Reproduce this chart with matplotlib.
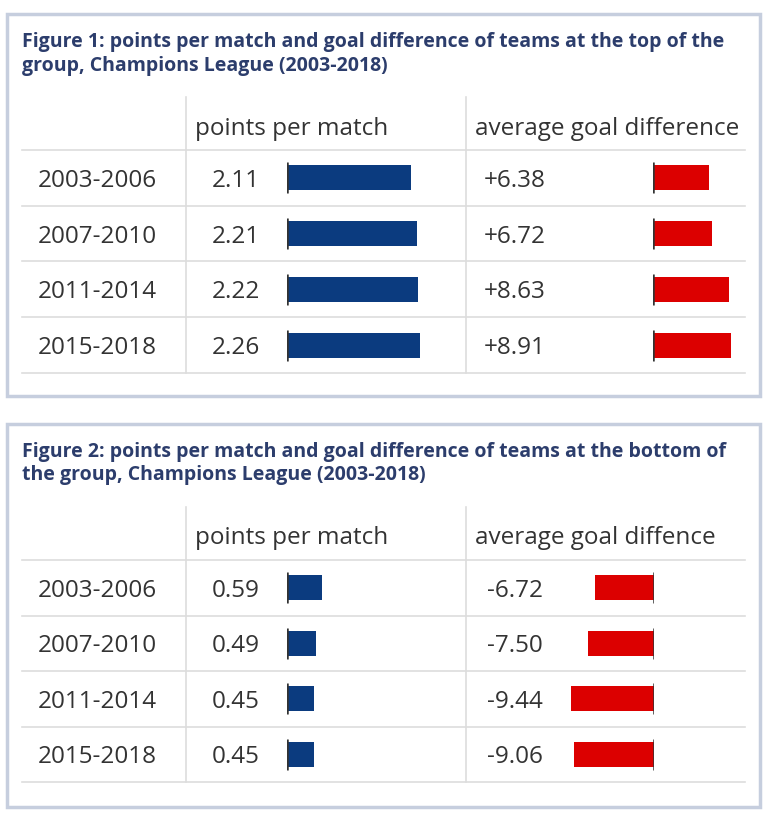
import matplotlib
matplotlib.use("Agg")
import matplotlib.pyplot as plt
from matplotlib.patches import Rectangle

# Data
periods = ["2003-2006", "2007-2010", "2011-2014", "2015-2018"]
top_ppm = [2.11, 2.21, 2.22, 2.26]
top_gd = [6.38, 6.72, 8.63, 8.91]
bottom_ppm = [0.59, 0.49, 0.45, 0.45]
bottom_gd = [-6.72, -7.50, -9.44, -9.06]

titles = [
    "Figure 1: points per match and goal difference of teams at the top of the\ngroup, Champions League (2003-2018)",
    "Figure 2: points per match and goal difference of teams at the bottom of\nthe group, Champions League (2003-2018)",
]
headers = [
    ("points per match", "average goal difference"),
    ("points per match", "average goal diffence"),
]

W, H = 767, 813
BLUE = "#0b3b7f"
RED = "#dc0000"
TITLE_C = "#2c3d6c"
TEXT_C = "#333333"
LINE_C = "#dddddd"
BORDER_C = "#c6cede"
FONT = "Open Sans"

fig = plt.figure(figsize=(W / 100, H / 100), dpi=100)
bg = fig.add_axes([0, 0, 1, 1])
bg.set_xlim(0, W)
bg.set_ylim(H, 0)
bg.axis("off")


def px_axes(x0, y0, x1, y1):
    return fig.add_axes([x0 / W, 1 - y1 / H, (x1 - x0) / W, (y1 - y0) / H])


PX_PPM = 59.0   # pixels per point
PX_GD = 8.8     # pixels per goal

panels = [
    dict(top=14, bottom=396, t1=43, vtop=97, head=126, rows0=150, rows1=373,
         ppm=top_ppm, gd=top_gd),
    dict(top=424, bottom=807, t1=452, vtop=507, head=535, rows0=560, rows1=782,
         ppm=bottom_ppm, gd=bottom_gd),
]

for i, p in enumerate(panels):
    bg.add_patch(Rectangle((7, p["top"]), 753, p["bottom"] - p["top"],
                           fill=False, edgecolor=BORDER_C, lw=2.5))
    bg.text(22, p["t1"] + 11, titles[i], ha="left", va="center", color=TITLE_C,
            fontsize=14, fontweight="bold", family=FONT, linespacing=1.2)

    # table grid
    n = len(periods)
    rh = (p["rows1"] - p["rows0"]) / n
    for k in range(n + 1):
        y = p["rows0"] + k * rh
        bg.plot([22, 745], [y, y], color=LINE_C, lw=1.2)
    for x in (186, 466):
        bg.plot([x, x], [p["vtop"], p["rows1"]], color=LINE_C, lw=1.2)

    bg.text(195, p["head"] + 3, headers[i][0], ha="left", va="center",
            color=TEXT_C, fontsize=17.5, family=FONT)
    bg.text(475, p["head"] + 3, headers[i][1], ha="left", va="center",
            color=TEXT_C, fontsize=17.5, family=FONT)

    for k, per in enumerate(periods):
        yc = p["rows0"] + (k + 0.5) * rh + 3
        bg.text(97, yc, per, ha="center", va="center", color=TEXT_C,
                fontsize=17.5, family=FONT)
        bg.text(236, yc, f"{p['ppm'][k]:.2f}", ha="center", va="center",
                color=TEXT_C, fontsize=17.5, family=FONT)
        bg.text(515, yc, f"{p['gd'][k]:+.2f}", ha="center", va="center",
                color=TEXT_C, fontsize=17.5, family=FONT)

    ypos = list(range(n))
    bh = 25 / rh
    zeros = [0] * n
    lo = [y - 0.28 for y in ypos]
    hi = [y + 0.28 for y in ypos]

    # points per match bars
    ax1 = px_axes(287, p["rows0"], 440, p["rows1"])
    ax1.barh(ypos, p["ppm"], height=bh, color=BLUE)
    ax1.vlines(zeros, lo, hi, color="#333333", lw=1.8)
    ax1.set_xlim(0, 153 / PX_PPM)
    ax1.set_ylim(n - 0.5, -0.5)
    ax1.axis("off")

    # goal difference bars
    if min(p["gd"]) >= 0:
        ax2 = px_axes(653, p["rows0"], 745, p["rows1"])
        ax2.set_xlim(0, 92 / PX_GD)
    else:
        ax2 = px_axes(555, p["rows0"], 654, p["rows1"])
        ax2.set_xlim(-99 / PX_GD, 0)
    ax2.barh(ypos, p["gd"], height=bh, color=RED)
    ax2.vlines(zeros, lo, hi, color="#333333", lw=1.8)
    ax2.set_ylim(n - 0.5, -0.5)
    ax2.axis("off")

fig.savefig("out.png", dpi=100, facecolor="white")
